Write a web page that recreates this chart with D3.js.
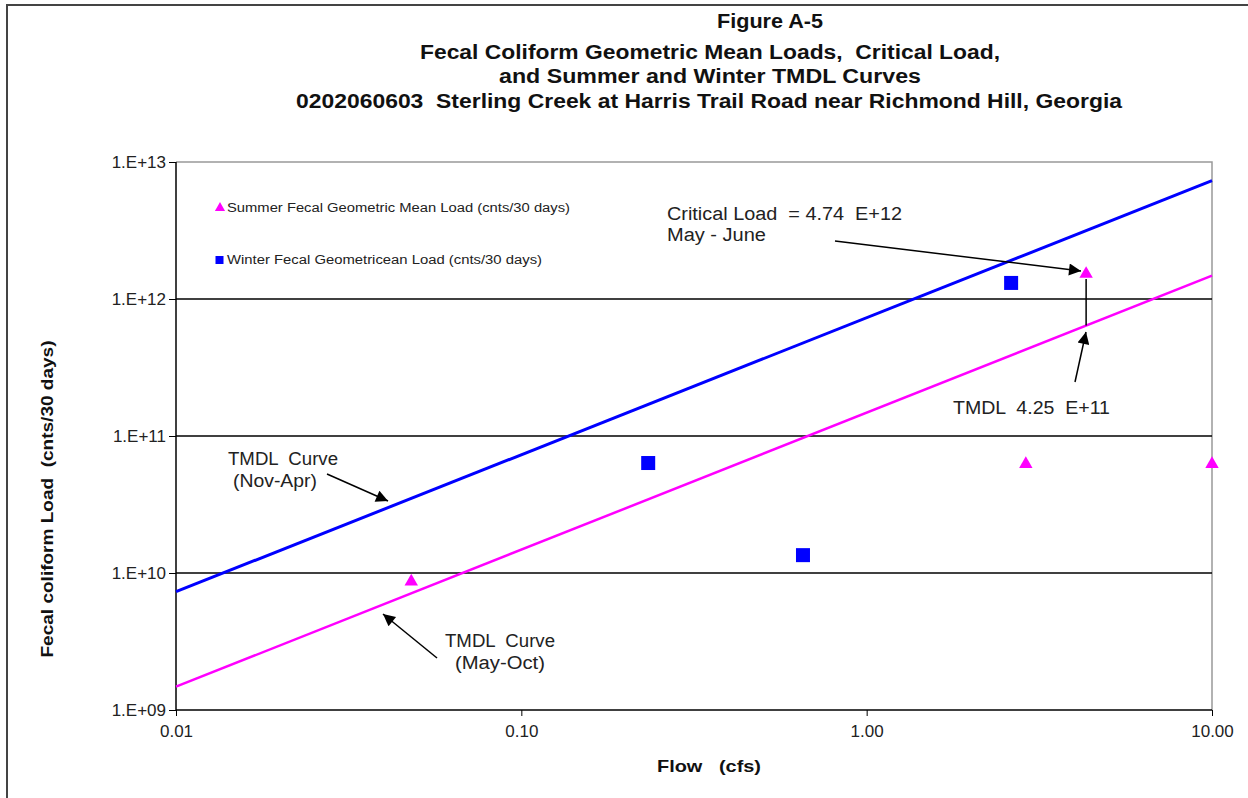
<!DOCTYPE html>
<html><head><meta charset="utf-8">
<script src="https://cdn.jsdelivr.net/npm/d3@7"></script>
<style>body{margin:0;background:#fff}svg{display:block}text{font-family:"Liberation Sans",Arial,sans-serif;white-space:pre}</style>
</head><body>
<svg id="c" width="1248" height="798"></svg>
<script>
const titleLines = ["Figure A-5","Fecal Coliform Geometric Mean Loads,  Critical Load,","and Summer and Winter TMDL Curves","0202060603  Sterling Creek at Harris Trail Road near Richmond Hill, Georgia"];
const xTicks = [0.01, 0.1, 1, 10];
const xTickLabels = ["0.01","0.10","1.00","10.00"];
const yTicks = [1e9, 1e10, 1e11, 1e12, 1e13];
const yTickLabels = ["1.E+09","1.E+10","1.E+11","1.E+12","1.E+13"];
const summerFlow = [0.048, 4.32, 2.89, 10.0];
const summerLoad = [8.8e9, 1.55e12, 6.35e10, 6.35e10];
const winterFlow = [2.62, 0.233, 0.654];
const winterLoad = [1.31e12, 6.35e10, 1.35e10];
const curveFlow = [0.01, 10];
const winterCurve = [7.3e9, 7.3e12];
const summerCurve = [1.48e9, 1.48e12];
const criticalFlow = 4.32;

const svg = d3.select("#c");
const L = 176, R = 1212, T = 162, B = 710;
const x = d3.scaleLog().domain([0.01, 10]).range([L, R]);
const y = d3.scaleLog().domain([1e9, 1e13]).range([B, T]);

// outer frame (top/left visible)
svg.append("path").attr("d","M7,798 V5 H1248").attr("fill","none").attr("stroke","#444").attr("stroke-width",2);

// title
const tW = [106, 580, 422, 826], tY = [28, 59, 83, 108], tX = [770, 710, 710, 709];
titleLines.forEach((t,i)=>{
  svg.append("text").attr("x",tX[i]).attr("y",tY[i]).attr("text-anchor","middle")
    .attr("font-size",20).attr("font-weight","bold").attr("fill","#111")
    .attr("textLength",tW[i]).attr("lengthAdjust","spacingAndGlyphs").text(t);
});

// plot border (gray)
svg.append("path").attr("d",`M${L},${T} H${R} V${B}`).attr("fill","none").attr("stroke","#999").attr("stroke-width",1.5);

// gridlines
svg.append("g").selectAll("line").data(yTicks.slice(1,4)).join("line")
  .attr("x1",L).attr("x2",R).attr("y1",d=>y(d)).attr("y2",d=>y(d)).attr("stroke","#000").attr("stroke-width",1.3);

// axes
const xAxis = d3.axisBottom(x).tickValues(xTicks).tickFormat((d,i)=>xTickLabels[i]).tickSize(6).tickPadding(9);
const gx = svg.append("g").attr("transform",`translate(0,${B})`).call(xAxis);
gx.select(".domain").attr("stroke","#000").attr("stroke-width",1.5).attr("d",`M${L},0H${R}`);
gx.selectAll("text").attr("font-size",17).attr("fill","#222").attr("font-family","Liberation Sans, Arial");
const yAxis = d3.axisLeft(y).tickValues(yTicks).tickFormat((d,i)=>yTickLabels[i]).tickSize(7).tickPadding(3);
const gy = svg.append("g").attr("transform",`translate(${L},0)`).call(yAxis);
gy.select(".domain").attr("stroke","#000").attr("stroke-width",1.5).attr("d",`M0,${B}V${T}`);
gy.selectAll("text").attr("font-size",17).attr("fill","#222").attr("font-family","Liberation Sans, Arial");

// axis titles
svg.append("text").attr("x",709).attr("y",772).attr("text-anchor","middle").attr("font-size",17).attr("font-weight","bold").attr("fill","#111")
  .attr("textLength",104).attr("lengthAdjust","spacingAndGlyphs").text("Flow   (cfs)");
svg.append("text").attr("transform","translate(53,499) rotate(-90)").attr("text-anchor","middle").attr("font-size",17).attr("font-weight","bold").attr("fill","#111")
  .attr("textLength",317).attr("lengthAdjust","spacingAndGlyphs").text("Fecal coliform Load  (cnts/30 days)");

// curves
const line = d3.line().x(d=>x(d[0])).y(d=>y(d[1]));
svg.append("path").datum(curveFlow.map((f,i)=>[f,winterCurve[i]])).attr("d",line).attr("stroke","#0000ff").attr("stroke-width",3).attr("fill","none");
svg.append("path").datum(curveFlow.map((f,i)=>[f,summerCurve[i]])).attr("d",line).attr("stroke","#ff00ff").attr("stroke-width",2.5).attr("fill","none");

// markers
const tri = d3.symbol().type(d3.symbolTriangle).size(78);
svg.append("g").selectAll("path").data(summerFlow.map((f,i)=>[f,summerLoad[i]])).join("path")
  .attr("d",tri).attr("transform",d=>`translate(${x(d[0])},${y(d[1])+1})`).attr("fill","#ff00ff");
svg.append("g").selectAll("rect").data(winterFlow.map((f,i)=>[f,winterLoad[i]])).join("rect")
  .attr("x",d=>x(d[0])-7).attr("y",d=>y(d[1])-7).attr("width",14).attr("height",14).attr("fill","#0000ff");

// legend
svg.append("path").attr("d",d3.symbol().type(d3.symbolTriangle).size(45)).attr("transform","translate(220,208)").attr("fill","#ff00ff");
svg.append("text").attr("x",227).attr("y",212).attr("font-size",12).attr("fill","#222")
  .attr("textLength",343).attr("lengthAdjust","spacingAndGlyphs").text("Summer Fecal Geometric Mean Load (cnts/30 days)");
svg.append("rect").attr("x",215.5).attr("y",256).attr("width",8).attr("height",8).attr("fill","#0000ff");
svg.append("text").attr("x",227).attr("y",264).attr("font-size",12).attr("fill","#222")
  .attr("textLength",315).attr("lengthAdjust","spacingAndGlyphs").text("Winter Fecal Geometricean Load (cnts/30 days)");

// arrow marker
svg.append("defs").append("marker").attr("id","ah").attr("viewBox","0 0 10 10").attr("refX",10).attr("refY",5)
  .attr("markerWidth",16).attr("markerHeight",12).attr("markerUnits","userSpaceOnUse").attr("orient","auto")
  .append("path").attr("d","M0,0 L10,5 L0,10 Z").attr("fill","#000");
function arrow(x1,y1,x2,y2){svg.append("line").attr("x1",x1).attr("y1",y1).attr("x2",x2).attr("y2",y2).attr("stroke","#000").attr("stroke-width",1.5).attr("marker-end","url(#ah)");}

const ann = (tx,ty,t,w,anchor)=>svg.append("text").attr("x",tx).attr("y",ty).attr("font-size",18).attr("fill","#222").attr("text-anchor",anchor||"start")
  .attr("textLength",w).attr("lengthAdjust","spacingAndGlyphs").text(t);
ann(667,220,"Critical Load  = 4.74  E+12",235);
ann(667,241,"May - June",99);
arrow(835,241,1081,271);
svg.append("line").attr("x1",x(criticalFlow)).attr("x2",x(criticalFlow)).attr("y1",y(summerCurve[0]*criticalFlow/0.01)).attr("y2",y(summerLoad[1])+6).attr("stroke","#000").attr("stroke-width",1.5);
arrow(1075,382,1086,332);
ann(953,414,"TMDL  4.25  E+11",157);
ann(228,465,"TMDL  Curve",110);
ann(233,487,"(Nov-Apr)",84);
arrow(327,474,388,501);
ann(445,647,"TMDL  Curve",110);
ann(455,669,"(May-Oct)",90);
arrow(437,658,383,614);
</script>
</body></html>
